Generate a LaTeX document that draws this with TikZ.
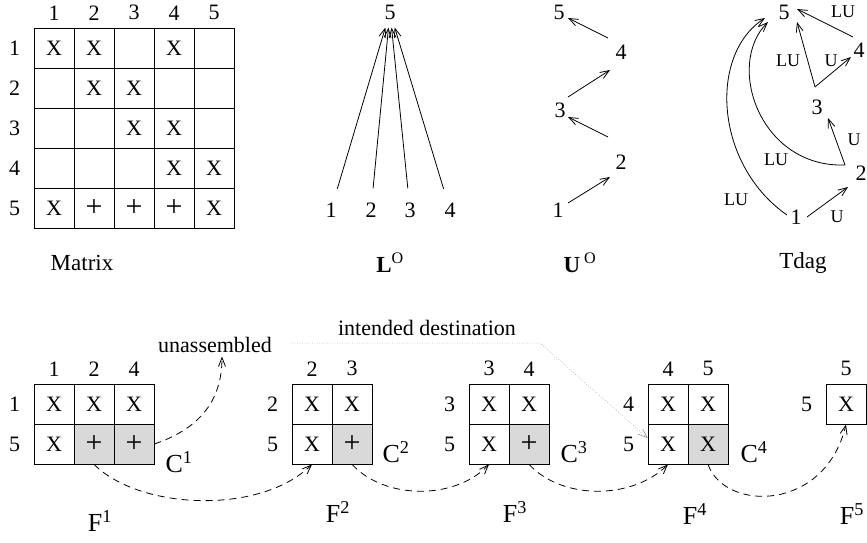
\documentclass[tikz,border=0pt]{standalone}
\usepackage{fontspec}
\setmainfont{Liberation Serif}
\usetikzlibrary{arrows.meta,positioning}

\newcommand{\pl}{{\fontsize{30}{30}\selectfont+}}

\tikzset{
  cell/.style={draw, minimum size=40pt, inner sep=0pt},
  gcell/.style={cell, fill=gray!30},
  vtx/.style={inner sep=3pt},
  idx/.style={inner sep=2pt},
  elbl/.style={font=\fontsize{18}{21}\selectfont, inner sep=1pt},
  ttl/.style={font=\fontsize{23}{27}\selectfont},
  big/.style={font=\fontsize{26}{30}\selectfont},
  flow/.style={->, dash pattern=on 7pt off 5pt},
}

\begin{document}
\begin{tikzpicture}[x=1pt,y=-1pt,font=\fontsize{22}{26}\selectfont,line width=0.8pt,
  >={Straight Barb[length=9pt,width=7pt]}]
  \useasboundingbox (0,0) rectangle (867,543);
  \clip (0,0) rectangle (867,543);

  % matrix
  \foreach \i in {1,...,5}{
    \foreach \j in {1,...,5}
      \node[cell] (m\i\j) at (14+40*\j,8+40*\i) {};
  }
  \foreach \i in {1,...,5}{
    \node[idx, above=5pt of m1\i] (mc\i) {\i};
    \node[idx, left=11pt of m\i1] (mr\i) {\i};
  }
  \foreach \i/\j/\t in {1/1/X,1/2/X,1/4/X,2/2/X,2/3/X,3/3/X,3/4/X,4/4/X,4/5/X,
                        5/1/X,5/2/\pl,5/3/\pl,5/4/\pl,5/5/X}
    \node (e\i\j) at (m\i\j) {\t};
  \node[ttl] (matrix) at (82,263) {Matrix};

  % L^O
  \node[vtx] (l5) at (390,12) {5};
  \foreach \k/\x in {1/331,2/371,3/410,4/450}{
    \node[vtx] (l\k) at (\x,210) {\k};
    \draw[->, shorten <=11pt, shorten >=5pt] (l\k) -- (l5);
  }
  \node[ttl] (lo) at (390,263) {\textbf{L}\textsuperscript{O}};

  % U^O
  \node[vtx] (u1) at (558,210) {1};
  \node[vtx] (u2) at (621,162) {2};
  \node[vtx] (u3) at (560,110) {3};
  \node[vtx] (u4) at (621,52) {4};
  \node[vtx] (u5) at (559,12) {5};
  \draw[->] ([shift={(10,-7)}]u1.center) -- ([shift={(-11,15)}]u2.center);
  \draw[->] ([shift={(-13,-25)}]u2.center) -- ([shift={(8,7)}]u3.center);
  \draw[->] ([shift={(8,-13)}]u3.center) -- ([shift={(-11,18)}]u4.center);
  \draw[->] ([shift={(-13,-14)}]u4.center) -- ([shift={(9,6)}]u5.center);
  \node[ttl] (uo) at (580,263) {\textbf{U}\,\textsuperscript{O}};

  % Tdag
  \node[vtx] (t5) at (784,12) {5};
  \node[vtx] (t4) at (859,50) {4};
  \node[vtx] (t3) at (817,107) {3};
  \node[vtx] (t2) at (861,173) {2};
  \node[vtx] (t1) at (796,217) {1};
  \draw[->] ([shift={(-6,-13)}]t4.center) -- ([shift={(13,-3)}]t5.center);
  \draw[->] ([shift={(-2,-20)}]t3.center) -- ([shift={(13,10)}]t5.center);
  \draw[->] ([shift={(-2,-20)}]t3.center) -- ([shift={(-8,7)}]t4.center);
  \draw[->] ([shift={(-16,-8)}]t2.center) -- ([shift={(11,11)}]t3.center);
  \draw[->] ([shift={(11,0)}]t1.center) -- ([shift={(-13,14)}]t2.center);
  \draw[->] ([shift={(-16,-8)}]t2.center) .. controls (760,168) and (725,65) .. ([shift={(-16,10)}]t5.center);
  \draw[->] ([shift={(-9,-2)}]t1.center) .. controls (715,165) and (708,55) .. ([shift={(-19,6)}]t5.center);
  \node[elbl] (lu54) at (843,12) {LU};
  \node[elbl] (lu53) at (788,61) {LU};
  \node[elbl] (u43) at (831,61) {U};
  \node[elbl] (u32) at (854,140) {U};
  \node[elbl] (lu52) at (776,160) {LU};
  \node[elbl] (lu51) at (736,200) {LU};
  \node[elbl] (u21) at (837,217) {U};
  \node[ttl] (tdag) at (803,263) {Tdag};

  % frontal matrices
  \foreach \n/\x/\y/\t in {fa11/54/404/X,fa12/94/404/X,fa13/134/404/X,fa21/54/444/X,
      fb11/312/404/X,fb12/352/404/X,fb21/312/444/X,
      fc11/489/404/X,fc12/529/404/X,fc21/489/444/X,
      fd11/668/404/X,fd12/708/404/X,fd21/668/444/X,
      fe11/846/404/X}
    \node[cell] (\n) at (\x,\y) {\t};
  \foreach \n/\x/\t in {fa22/94/\pl,fa23/134/\pl,fb22/352/\pl,fc22/529/\pl,fd22/708/X}
    \node[gcell] (\n) at (\x,444) {\t};
  \foreach \n/\t in {fa11/1,fa12/2,fa13/4,fb11/2,fb12/3,fc11/3,fc12/4,fd11/4,fd12/5,fe11/5}
    \node[idx, above=5pt of \n] (c\n) {\t};
  \foreach \n/\t in {fa11/1,fa21/5,fb11/2,fb21/5,fc11/3,fc21/5,fd11/4,fd21/5,fe11/5}
    \node[idx, left=11pt of \n] (r\n) {\t};

  \node[big] (cb1) at (179,462) {C\textsuperscript{1}};
  \node[big] (cb2) at (396,452) {C\textsuperscript{2}};
  \node[big] (cb3) at (574,452) {C\textsuperscript{3}};
  \node[big] (cb4) at (754,452) {C\textsuperscript{4}};
  \node[big] (fr1) at (100,521) {F\textsuperscript{1}};
  \node[big] (fr2) at (338,512) {F\textsuperscript{2}};
  \node[big] (fr3) at (515,512) {F\textsuperscript{3}};
  \node[big] (fr4) at (695,514) {F\textsuperscript{4}};
  \node[big] (fr5) at (852,514) {F\textsuperscript{5}};

  % contribution blocks
  \node (unas) at (215,345) {unassembled};
  \draw[flow] (fa23.east) .. controls (195,430) and (222,405) .. ([xshift=7pt]unas.south);
  \draw[flow] (fa22.south) .. controls (140,510) and (260,515) .. (fb21.south);
  \draw[flow] (fb22.south) .. controls (385,500) and (455,500) .. (fc21.south);
  \draw[flow] (fc22.south) .. controls (562,500) and (632,500) .. (fd21.south);
  \draw[flow] (fd22.south) .. controls (725,512) and (825,512) .. (fe11.south);

  \node (dest) at (427,328) {intended destination};
  \coordinate (d0) at (292,343);
  \draw[->, gray, dotted, line width=0.5pt] (d0) -- (540,343) -- ([yshift=6pt]fd21.west);
\end{tikzpicture}
\end{document}
